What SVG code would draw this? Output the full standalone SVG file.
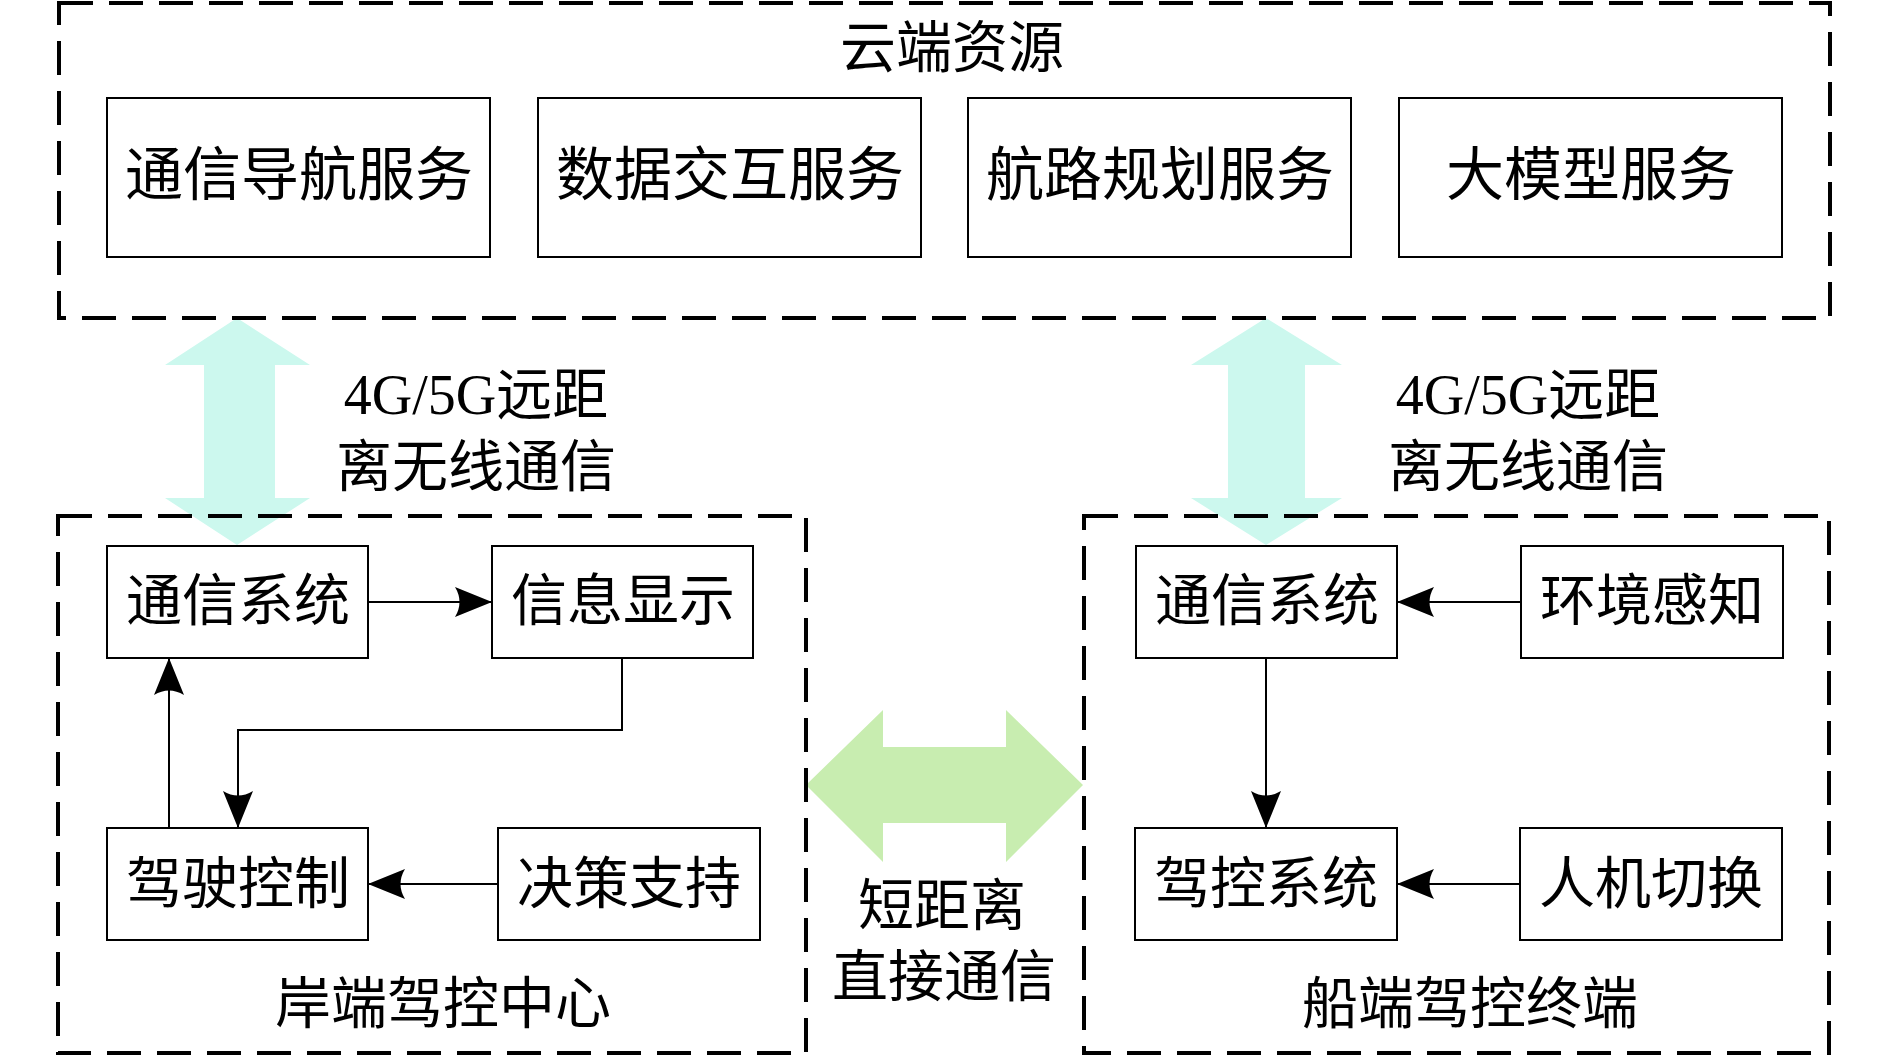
<svg xmlns="http://www.w3.org/2000/svg" width="1890" height="1058" viewBox="0 0 1890 1058">
<style>
.bg{fill:#ffffff}
.grp{fill:none;stroke:#000;stroke-width:4;stroke-dasharray:34 16}
.box{fill:#ffffff;stroke:#000;stroke-width:2}
.t{font-family:"Liberation Serif","Noto Sans CJK SC",serif;font-size:56px;fill:#000;text-anchor:middle}
.ts{font-size:58px}
.line{fill:none;stroke:#000;stroke-width:2}
.cyan{fill:#ccf8ee}
.green{fill:#c8edb0}
</style>
<defs>
<marker id="ah" viewBox="-40 -20 42 40" markerWidth="42" markerHeight="40" refX="0" refY="0" markerUnits="userSpaceOnUse" orient="auto">
<path d="M0,0 L-37,-15 Q-28,0 -37,15 Z" fill="#000"/>
</marker>
</defs>
<rect class="bg" x="0" y="0" width="1890" height="1058"/>

<g id="links-wide">
<polygon id="arrow-left-cloud" class="cyan" points="237,318 310,365 275,365 275,498 310,498 237,545 165,498 204,498 204,365 165,365"/>
<polygon id="arrow-right-cloud" class="cyan" points="1266,318 1342,365 1305,365 1305,498 1342,498 1266,545 1191,498 1228,498 1228,365 1191,365"/>
<polygon id="arrow-short" class="green" points="806,785 883,710 883,747 1006,747 1006,710 1083,785 1006,862 1006,823 883,823 883,862"/>
</g>

<g id="cloud">
<rect class="grp" x="59" y="3" width="1771" height="315"/>
<text class="t" x="952" y="67">云端资源</text>
</g>
<g id="shore">
<rect class="grp" x="58" y="516" width="748" height="537"/>
<text class="t" x="443" y="1023">岸端驾控中心</text>
</g>
<g id="ship">
<rect class="grp" x="1084" y="516" width="745" height="537"/>
<text class="t" x="1470" y="1023">船端驾控终端</text>
</g>

<g id="svc1"><rect class="box" x="107" y="98" width="383" height="159"/><text class="t ts" x="299" y="195">通信导航服务</text></g>
<g id="svc2"><rect class="box" x="538" y="98" width="383" height="159"/><text class="t ts" x="730" y="195">数据交互服务</text></g>
<g id="svc3"><rect class="box" x="968" y="98" width="383" height="159"/><text class="t ts" x="1160" y="195">航路规划服务</text></g>
<g id="svc4"><rect class="box" x="1399" y="98" width="383" height="159"/><text class="t ts" x="1591" y="195">大模型服务</text></g>

<g id="label-left"><text class="t" x="476" y="414">4G/5G远距</text><text class="t" x="476" y="486">离无线通信</text></g>
<g id="label-right"><text class="t" x="1528" y="414">4G/5G远距</text><text class="t" x="1528" y="486">离无线通信</text></g>
<g id="label-short"><text class="t" x="942" y="925">短距离</text><text class="t" x="944" y="996">直接通信</text></g>

<g id="s-comm"><rect class="box" x="107" y="546" width="261" height="112"/><text class="t" x="238" y="620">通信系统</text></g>
<g id="s-info"><rect class="box" x="492" y="546" width="261" height="112"/><text class="t" x="623" y="620">信息显示</text></g>
<g id="s-drive"><rect class="box" x="107" y="828" width="261" height="112"/><text class="t" x="238" y="903">驾驶控制</text></g>
<g id="s-decide"><rect class="box" x="498" y="828" width="262" height="112"/><text class="t" x="629" y="903">决策支持</text></g>

<g id="v-comm"><rect class="box" x="1136" y="546" width="261" height="112"/><text class="t" x="1267" y="620">通信系统</text></g>
<g id="v-env"><rect class="box" x="1521" y="546" width="262" height="112"/><text class="t" x="1652" y="620">环境感知</text></g>
<g id="v-ctrl"><rect class="box" x="1135" y="828" width="262" height="112"/><text class="t" x="1266" y="903">驾控系统</text></g>
<g id="v-hm"><rect class="box" x="1520" y="828" width="262" height="112"/><text class="t" x="1651" y="903">人机切换</text></g>

<g id="connectors">
<path class="line" d="M368,602 H492" marker-end="url(#ah)"/>
<path class="line" d="M622,658 V730 H238 V828" marker-end="url(#ah)"/>
<path class="line" d="M169,828 V658" marker-end="url(#ah)"/>
<path class="line" d="M498,884 H368" marker-end="url(#ah)"/>
<path class="line" d="M1521,602 H1397" marker-end="url(#ah)"/>
<path class="line" d="M1266,658 V828" marker-end="url(#ah)"/>
<path class="line" d="M1520,884 H1397" marker-end="url(#ah)"/>
</g>
</svg>
